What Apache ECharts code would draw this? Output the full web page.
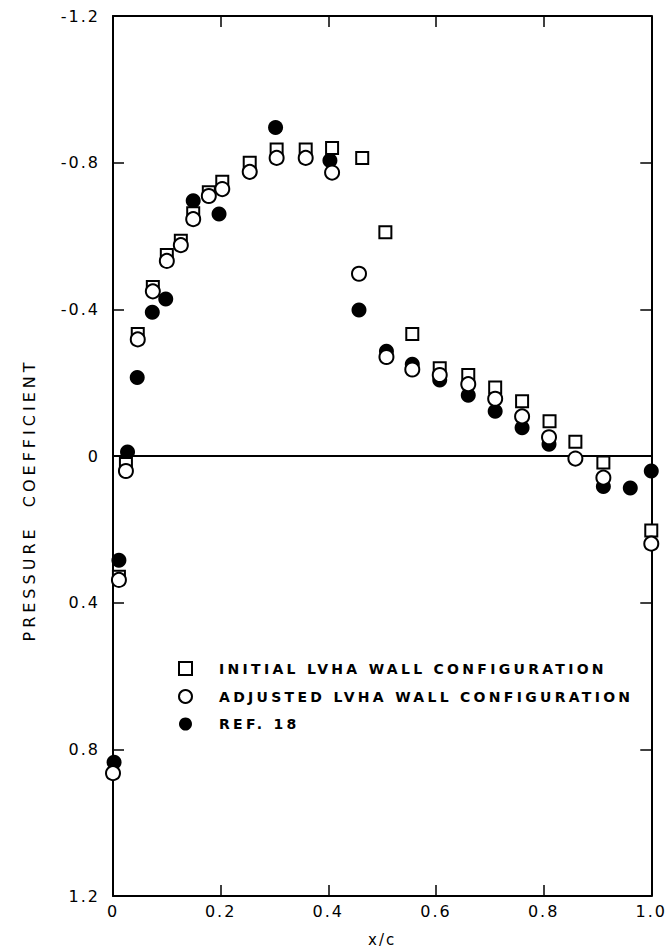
<!DOCTYPE html>
<html>
<head>
<meta charset="utf-8">
<script src="https://cdn.jsdelivr.net/npm/echarts@6/dist/echarts.min.js"></script>
<style>
  html, body { margin: 0; padding: 0; background: #fff; }
  #chart { width: 667px; height: 952px; }
</style>
</head>
<body>
<div id="chart"></div>
<script>
// pressure coefficient vs x/c
const initialX = [0.011, 0.024, 0.046, 0.074, 0.1, 0.126, 0.149, 0.178, 0.203, 0.254, 0.304, 0.358, 0.407, 0.463, 0.506, 0.556, 0.607, 0.66, 0.71, 0.76, 0.811, 0.859, 0.911, 1.0]
const initialCp = [0.329, 0.022, -0.333, -0.461, -0.548, -0.587, -0.662, -0.719, -0.748, -0.80, -0.836, -0.836, -0.84, -0.813, -0.61, -0.333, -0.239, -0.221, -0.187, -0.149, -0.095, -0.039, 0.018, 0.203]

const adjustedX = [0.0, 0.011, 0.024, 0.046, 0.074, 0.1, 0.126, 0.149, 0.178, 0.203, 0.254, 0.304, 0.358, 0.407, 0.457, 0.508, 0.556, 0.607, 0.66, 0.71, 0.76, 0.81, 0.859, 0.911, 1.0]
const adjustedCp = [0.865, 0.338, 0.041, -0.318, -0.449, -0.532, -0.575, -0.646, -0.709, -0.728, -0.775, -0.813, -0.813, -0.773, -0.497, -0.27, -0.236, -0.221, -0.196, -0.156, -0.108, -0.051, 0.007, 0.059, 0.239]

const refX = [0.002, 0.011, 0.027, 0.045, 0.073, 0.098, 0.149, 0.197, 0.254, 0.302, 0.403, 0.457, 0.508, 0.556, 0.607, 0.66, 0.71, 0.76, 0.81, 0.911, 0.961, 1.0]
const refCp = [0.835, 0.284, -0.011, -0.214, -0.392, -0.428, -0.696, -0.66, -0.775, -0.896, -0.806, -0.398, -0.286, -0.25, -0.207, -0.166, -0.122, -0.077, -0.032, 0.083, 0.087, 0.041]

const xTicks = [0, 0.2, 0.4, 0.6, 0.8, 1.0]
const yTicks = [-1.2, -0.8, -0.4, 0, 0.4, 0.8, 1.2]

const names = ['INITIAL LVHA WALL CONFIGURATION', 'ADJUSTED LVHA WALL CONFIGURATION', 'REF. 18']
const yTitle = 'PRESSURE  COEFFICIENT'

const zip = (xs, ys) => xs.map((x, i) => [x, ys[i]])
const fmt = v => (v === 0 ? '0' : v.toFixed(1))
const font = 'DejaVu Sans, sans-serif'

const chart = echarts.init(document.getElementById('chart'), null, { renderer: 'svg' })

const axisLine = { show: true, onZero: false, lineStyle: { color: '#000', width: 2 } }
const tick = { show: true, inside: true, length: 11, lineStyle: { color: '#000', width: 1.5 } }

chart.setOption({
  animation: false,
  backgroundColor: '#fff',
  grid: { left: 113, right: 15, top: 16, bottom: 47 },
  legend: {
    orient: 'vertical',
    left: 173,
    top: 656,
    itemGap: 13,
    itemWidth: 13,
    itemHeight: 13,
    data: names,
    textStyle: { color: '#000', fontSize: 14, fontFamily: font, fontWeight: 'bold', padding: [0, 0, 0, 22] }
  },
  graphic: [
    {
      type: 'text',
      x: 29,
      y: 500,
      rotation: Math.PI / 2,
      style: {
        text: yTitle,
        fill: '#000',
        font: '16px DejaVu Sans, sans-serif',
        align: 'center',
        verticalAlign: 'middle'
      }
    }
  ],
  xAxis: [
    {
      type: 'value', min: 0, max: 1, interval: 0.2,
      name: 'x/c', nameLocation: 'middle', nameGap: 36,
      nameTextStyle: { color: '#000', fontSize: 15, fontFamily: font },
      axisLine, axisTick: tick, splitLine: { show: false },
      axisLabel: { color: '#000', fontSize: 16, fontFamily: font, margin: 7, formatter: fmt, customValues: xTicks }
    },
    {
      type: 'value', position: 'top', min: 0, max: 1, interval: 0.2,
      axisLine, axisTick: tick, splitLine: { show: false }, axisLabel: { show: false }
    }
  ],
  yAxis: [
    {
      type: 'value', inverse: true, min: -1.2, max: 1.2, interval: 0.4,
      axisLine, axisTick: tick, splitLine: { show: false },
      axisLabel: { color: '#000', fontSize: 16, fontFamily: font, margin: 13, formatter: fmt, customValues: yTicks }
    },
    {
      type: 'value', position: 'right', inverse: true, min: -1.2, max: 1.2, interval: 0.4,
      axisLine, axisTick: tick, splitLine: { show: false }, axisLabel: { show: false }
    }
  ],
  series: [
    {
      name: names[2],
      type: 'scatter',
      symbol: 'circle',
      symbolSize: 15,
      clip: false,
      itemStyle: { color: '#000', opacity: 1 },
      data: zip(refX, refCp),
      z: 3,
      markLine: {
        silent: true,
        symbol: 'none',
        label: { show: false },
        lineStyle: { color: '#000', width: 2, type: 'solid' },
        data: [{ yAxis: 0 }]
      }
    },
    {
      name: names[0],
      type: 'scatter',
      symbol: 'rect',
      symbolSize: 12,
      clip: false,
      itemStyle: { color: '#fff', borderColor: '#000', borderWidth: 2, opacity: 1 },
      data: zip(initialX, initialCp),
      z: 4
    },
    {
      name: names[1],
      type: 'scatter',
      symbol: 'circle',
      symbolSize: 14,
      clip: false,
      itemStyle: { color: '#fff', borderColor: '#000', borderWidth: 2, opacity: 1 },
      data: zip(adjustedX, adjustedCp),
      z: 5
    }
  ]
})

// the scan uses widely spaced lettering
const spacing = t => {
  if (names.includes(t)) return '3.3px'
  if (t === yTitle) return '4px'
  return '2px'
}
const spaceText = () => {
  document.querySelectorAll('#chart svg text').forEach(el => {
    el.style.letterSpacing = spacing(el.textContent)
  })
}
chart.on('finished', spaceText)
spaceText()
</script>
</body>
</html>
